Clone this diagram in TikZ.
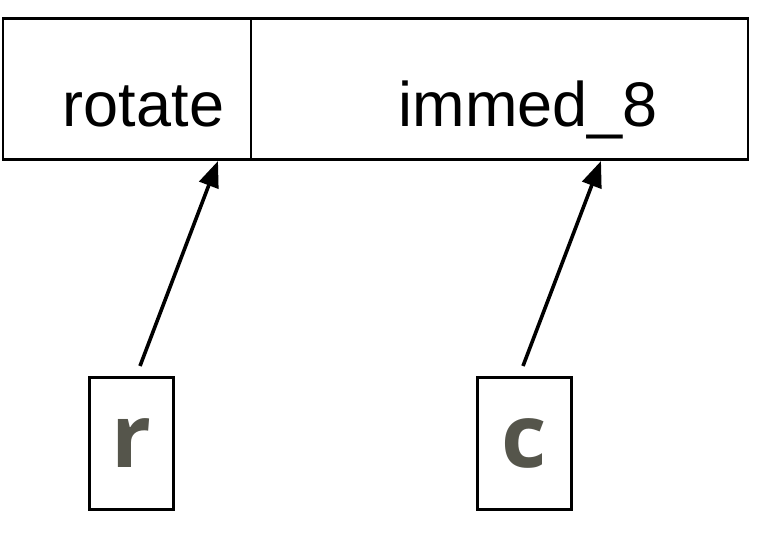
\documentclass[tikz,border=0pt]{standalone}
\usepackage{fontspec}
\setmainfont{Liberation Sans}
\newfontfamily\lettfont{Open Sans}
\usetikzlibrary{arrows.meta}
\definecolor{lettgray}{HTML}{55554B}
\tikzset{
  field/.style={draw, line width=2.6pt, inner sep=0pt, anchor=north west},
  smallbox/.style={draw, line width=2.6pt, inner sep=0pt, anchor=north west},
  lbl/.style={font=\fontsize{63}{70}\selectfont, anchor=base, inner sep=0pt},
  lett/.style={font=\lettfont\bfseries\fontsize{88}{100}\selectfont, text=lettgray, inner sep=0pt},
  arr/.style={line width=3.6pt, -{Triangle[length=26pt,width=20pt]}}
}
\begin{document}
\begin{tikzpicture}[x=1pt,y=-1pt]
\useasboundingbox (0,0) rectangle (758,550);
\node[field, minimum width=248pt, minimum height=141pt] (rot) at (1.5,17) {};
\node[field, minimum width=497pt, minimum height=141pt] (imm) at (249.5,17) {};
\node[lbl] (rottxt) at (143.5,126) {rotate};
\node[lbl] (immtxt) at (528.5,126) {immed\_8};
\node[smallbox, minimum width=84pt, minimum height=132pt] (rbox) at (88,376) {};
\node[smallbox, minimum width=94pt, minimum height=132pt] (cbox) at (476,376) {};
\node[lett] (rl) at (rbox.center) {r};
\node[lett] (cl) at (cbox.center) {c};
\coordinate (rtail) at (140,366);
\coordinate (rtip) at (218,161);
\coordinate (ctail) at (523,366);
\coordinate (ctip) at (601,161);
\draw[arr] (rtail) -- (rtip);
\draw[arr] (ctail) -- (ctip);
\end{tikzpicture}
\end{document}
